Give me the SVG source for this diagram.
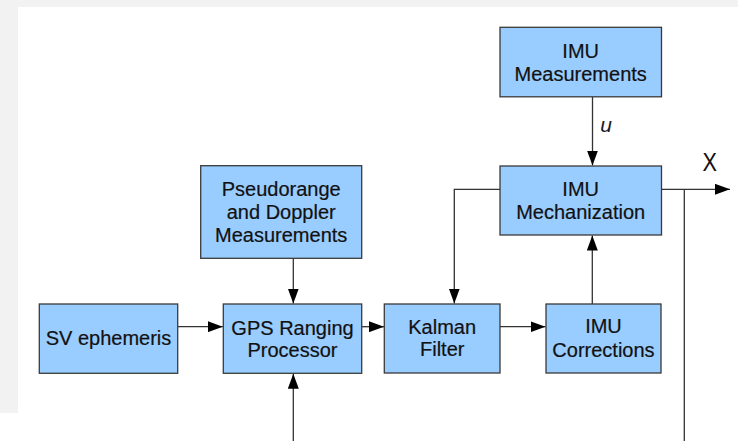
<svg xmlns="http://www.w3.org/2000/svg" width="738" height="441" viewBox="0 0 738 441">
<style>
.box{fill:#99ccff;stroke:#3a3a3a;stroke-width:1.3}
.t{font-family:"Liberation Sans",Arial,sans-serif;font-size:20px;fill:#111;text-anchor:middle;stroke:#111;stroke-width:0.2}
.ln{fill:none;stroke:#333;stroke-width:1.3}
</style>
<defs>
<marker id="ah" viewBox="0 0 15 11" refX="15" refY="5.5" markerWidth="15" markerHeight="11" markerUnits="userSpaceOnUse" orient="auto">
<path d="M0,0 L15,5.5 L0,11 Z" fill="#000"/>
</marker>
</defs>
<rect x="0" y="0" width="738" height="441" fill="#ffffff"/>
<rect x="0" y="0" width="738" height="7" fill="#f2f2f2"/>
<rect x="0" y="0" width="18" height="413" fill="#f2f2f2"/>
<g id="connectors">
<path class="ln" d="M592.5,97 V165.5" marker-end="url(#ah)"/>
<path class="ln" d="M293.3,258.5 V303.5" marker-end="url(#ah)"/>
<path class="ln" d="M178,326.7 H222.8" marker-end="url(#ah)"/>
<path class="ln" d="M362,326.7 H384" marker-end="url(#ah)"/>
<path class="ln" d="M500,326.7 H545.5" marker-end="url(#ah)"/>
<path class="ln" d="M293.3,441 V373.8" marker-end="url(#ah)"/>
<path class="ln" d="M592.3,304 V235.5" marker-end="url(#ah)"/>
<path class="ln" d="M500,189.3 H454.3 V303.5" marker-end="url(#ah)"/>
<path class="ln" d="M661.5,189.3 H730" marker-end="url(#ah)"/>
<path class="ln" d="M684.3,189.3 V441"/>
<text x="606" y="131.7" style="font-family:'Liberation Sans',Arial,sans-serif;font-size:21px;font-style:italic;fill:#1a1a2a" text-anchor="middle">u</text>
<text x="0" y="0" transform="translate(709.7,170.7) scale(0.85,1)" style="font-family:'Liberation Sans',Arial,sans-serif;font-size:25.5px;fill:#111" text-anchor="middle">X</text>
</g>
<g id="imu-measurements">
<rect class="box" x="500" y="27.3" width="161.5" height="69.5"/>
<text class="t" x="580.7" y="57.5">IMU</text>
<text class="t" x="580.7" y="80.5">Measurements</text>
</g>
<g id="imu-mechanization">
<rect class="box" x="500" y="166" width="161.5" height="69"/>
<text class="t" x="580.7" y="195.5">IMU</text>
<text class="t" x="580.7" y="218.7">Mechanization</text>
</g>
<g id="pseudorange">
<rect class="box" x="200.7" y="165.7" width="161" height="92.6"/>
<text class="t" x="281.2" y="195.5">Pseudorange</text>
<text class="t" x="281.2" y="219">and Doppler</text>
<text class="t" x="281.2" y="242.3">Measurements</text>
</g>
<g id="sv-ephemeris">
<rect class="box" x="39.3" y="304" width="138.4" height="69.3"/>
<text class="t" x="108.5" y="345.3">SV ephemeris</text>
</g>
<g id="gps-ranging">
<rect class="box" x="223.3" y="304" width="138.4" height="69.3"/>
<text class="t" x="292.5" y="334.7">GPS Ranging</text>
<text class="t" x="292.5" y="357">Processor</text>
</g>
<g id="kalman">
<rect class="box" x="384.3" y="304" width="115.7" height="69"/>
<text class="t" x="442.2" y="333.7">Kalman</text>
<text class="t" x="442.2" y="356">Filter</text>
</g>
<g id="imu-corrections">
<rect class="box" x="546" y="304" width="115" height="69"/>
<text class="t" x="603.5" y="332.5">IMU</text>
<text class="t" x="603.5" y="357">Corrections</text>
</g>
</svg>
